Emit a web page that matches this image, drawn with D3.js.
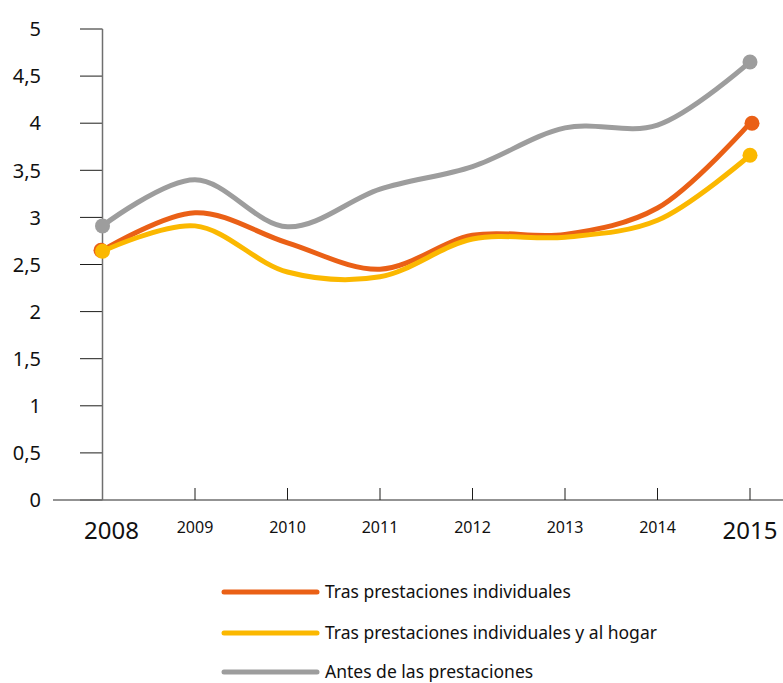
<!DOCTYPE html>
<html><head><meta charset="utf-8">
<script src="https://cdn.jsdelivr.net/npm/d3@7"></script>
<style>body{margin:0;background:#fff}svg{display:block}text{font-family:"Noto Sans",sans-serif;fill:#111}</style>
</head><body>
<script>
const years = [2008, 2009, 2010, 2011, 2012, 2013, 2014, 2015];
const yTicks = [0, 0.5, 1, 1.5, 2, 2.5, 3, 3.5, 4, 4.5, 5];
const seriesNames = ["Tras prestaciones individuales", "Tras prestaciones individuales y al hogar", "Antes de las prestaciones"];
const seriesColors = ["#ea6016", "#fbb800", "#9d9d9d"];
const trasIndividuales = [2.65, 3.05, 2.73, 2.45, 2.81, 2.82, 3.10, 4.00];
const trasHogar = [2.64, 2.91, 2.42, 2.37, 2.77, 2.79, 2.97, 3.66];
const antes = [2.91, 3.40, 2.90, 3.30, 3.54, 3.95, 3.98, 4.65];

const W = 783, H = 683;
const svg = d3.select("body").append("svg").attr("width", W).attr("height", H);
const x = d3.scaleLinear().domain([2008, 2015]).range([102.5, 750]);
const y = d3.scaleLinear().domain([0, 5]).range([500, 29]);

svg.selectAll(".yt").data(yTicks).enter().append("line")
  .attr("x1", 80).attr("x2", x(2008)).attr("y1", d => y(d)).attr("y2", d => y(d))
  .attr("stroke", "#1d1d1b").attr("stroke-width", 1);
svg.selectAll(".yl").data(yTicks).enter().append("text")
  .attr("x", 41).attr("y", d => y(d)).attr("dy", "0.36em").attr("text-anchor", "end")
  .attr("font-size", 20).text(d => String(d).replace(".", ","));
svg.append("line").attr("x1", x(2008)).attr("x2", x(2008)).attr("y1", y(5)).attr("y2", y(0))
  .attr("stroke", "#6f6f6f").attr("stroke-width", 1.5);
svg.append("line").attr("x1", 53).attr("x2", W).attr("y1", y(0)).attr("y2", y(0))
  .attr("stroke", "#6f6f6f").attr("stroke-width", 1.5);
svg.selectAll(".xt").data(years.slice(1)).enter().append("line")
  .attr("x1", d => x(d)).attr("x2", d => x(d)).attr("y1", y(0) - 12).attr("y2", y(0))
  .attr("stroke", "#1d1d1b").attr("stroke-width", 1);
svg.selectAll(".xl").data(years).enter().append("text")
  .attr("x", d => x(d) + ((d === 2008) ? 9 : 0)).attr("y", (d, i) => (i === 0 || i === years.length - 1) ? 539 : 533)
  .attr("text-anchor", "middle")
  .attr("font-size", (d, i) => (i === 0 || i === years.length - 1) ? 24 : 16)
  .text(d => d);

const data = [trasIndividuales, trasHogar, antes];
const line = d3.line().x((d, i) => x(years[i])).y(d => y(d)).curve(d3.curveCatmullRom.alpha(0.5));
const order = [2, 0, 1];
order.forEach(k => {
  svg.append("path").attr("d", line(data[k])).attr("fill", "none")
    .attr("stroke", seriesColors[k]).attr("stroke-width", 5).attr("stroke-linejoin", "round").attr("stroke-linecap", "round");
});
order.forEach(k => {
  const v = data[k];
  [0, v.length - 1].forEach(i => {
    svg.append("circle").attr("cx", x(years[i]) + (k === 0 && i === 0 ? -1.5 : (i === v.length - 1 && k === 0 ? 2 : 0)))
      .attr("cy", y(v[i])).attr("r", 7.5).attr("fill", seriesColors[k]);
  });
});

const ly = [592, 633, 672];
seriesNames.forEach((n, k) => {
  svg.append("line").attr("x1", 224).attr("x2", 317).attr("y1", ly[k]).attr("y2", ly[k])
    .attr("stroke", seriesColors[k]).attr("stroke-width", 5).attr("stroke-linecap", "round");
  svg.append("text").attr("x", 325).attr("y", ly[k]).attr("dy", "0.35em").attr("font-size", 17.5).text(n);
});
</script>
</body></html>
